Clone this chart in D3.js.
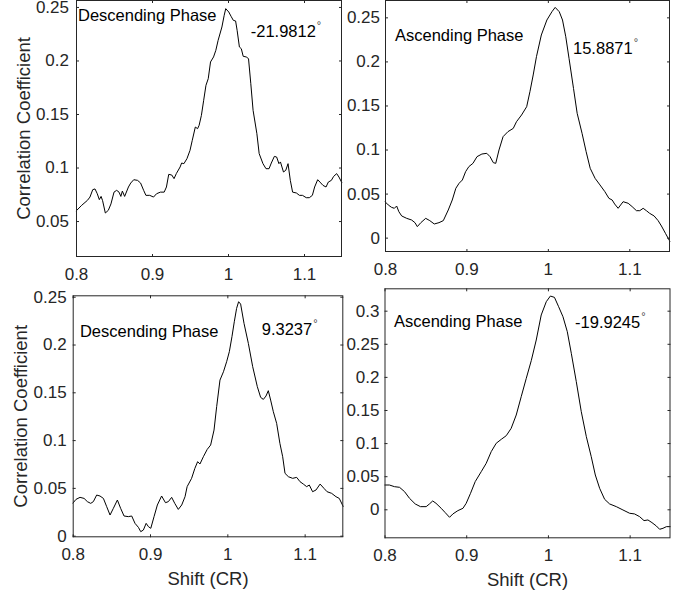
<!DOCTYPE html>
<html>
<head>
<meta charset="utf-8">
<script src="https://cdn.jsdelivr.net/npm/d3@7"></script>
<style>
  body { margin: 0; background: #fff; }
  svg { display: block; font-family: "Liberation Sans", Arial, Helvetica, sans-serif; }
</style>
</head>
<body>
<script>
let width = 690;
let height = 597;

// tick labels
const xTicks = [0.8, 0.9, 1, 1.1];
const yTicksA = [0.05, 0.1, 0.15, 0.2, 0.25];
const yTicksB = [0, 0.05, 0.1, 0.15, 0.2, 0.25];
const yTicksD = [0, 0.05, 0.1, 0.15, 0.2, 0.25, 0.3];

// panel 1: descending phase, -21.9812
const shift1 = [0.8, 0.8075, 0.815, 0.8184, 0.822, 0.825, 0.828, 0.8307, 0.833, 0.835, 0.8386, 0.8425, 0.846, 0.85, 0.8535, 0.8566, 0.859, 0.861, 0.864, 0.869, 0.872, 0.876, 0.881, 0.885, 0.889, 0.892, 0.897, 0.902, 0.906, 0.911, 0.916, 0.919, 0.922, 0.926, 0.929, 0.932, 0.937, 0.939, 0.942, 0.946, 0.95, 0.953, 0.957, 0.96, 0.962, 0.965, 0.968, 0.971, 0.974, 0.977, 0.981, 0.984, 0.987, 0.992, 0.995, 0.997, 1.001, 1.004, 1.007, 1.01, 1.012, 1.015, 1.0175, 1.02, 1.024, 1.027, 1.03, 1.033, 1.038, 1.041, 1.046, 1.05, 1.054, 1.057, 1.061, 1.064, 1.067, 1.069, 1.073, 1.076, 1.079, 1.082, 1.085, 1.09, 1.094, 1.098, 1.103, 1.107, 1.111, 1.114, 1.118, 1.121, 1.125, 1.129, 1.132, 1.136, 1.139, 1.143, 1.146, 1.15];
const corr1 = [0.0593, 0.0647, 0.0693, 0.0724, 0.0793, 0.08, 0.0755, 0.07, 0.073, 0.069, 0.0575, 0.06, 0.066, 0.077, 0.0787, 0.077, 0.073, 0.078, 0.073, 0.0818, 0.0855, 0.0886, 0.088, 0.0855, 0.0787, 0.074, 0.074, 0.0724, 0.0755, 0.077, 0.077, 0.0818, 0.0936, 0.093, 0.0896, 0.0943, 0.1005, 0.1042, 0.1036, 0.1083, 0.116, 0.1254, 0.1378, 0.1363, 0.1394, 0.1487, 0.1628, 0.1768, 0.183, 0.1986, 0.2033, 0.2095, 0.2188, 0.2313, 0.2422, 0.2484, 0.2453, 0.2413, 0.2375, 0.2369, 0.2282, 0.2126, 0.211, 0.2039, 0.2033, 0.2017, 0.1783, 0.1534, 0.1316, 0.113, 0.1036, 0.0989, 0.0989, 0.1042, 0.1104, 0.1098, 0.1036, 0.1052, 0.0958, 0.0974, 0.1036, 0.088, 0.077, 0.0762, 0.074, 0.074, 0.0718, 0.0718, 0.074, 0.0818, 0.0886, 0.0864, 0.0833, 0.0818, 0.0864, 0.088, 0.0917, 0.0943, 0.0911, 0.0855];

// panel 2: ascending phase, 15.8871
const shift2 = [0.8, 0.804, 0.808, 0.8115, 0.8143, 0.817, 0.8205, 0.8266, 0.8327, 0.8368, 0.8397, 0.844, 0.85, 0.855, 0.8605, 0.8663, 0.8716, 0.8777, 0.8826, 0.887, 0.891, 0.895, 0.899, 0.903, 0.908, 0.913, 0.919, 0.925, 0.929, 0.933, 0.936, 0.94, 0.945, 0.951, 0.9575, 0.9615, 0.9677, 0.974, 0.978, 0.982, 0.986, 0.992, 0.9988, 1.005, 1.009, 1.014, 1.018, 1.022, 1.026, 1.0315, 1.036, 1.042, 1.047, 1.052, 1.058, 1.064, 1.07, 1.075, 1.079, 1.082, 1.0863, 1.0924, 1.0986, 1.1035, 1.1088, 1.1129, 1.117, 1.121, 1.125, 1.1305, 1.1354, 1.1395, 1.1444, 1.15];
const corr2 = [0.0408, 0.0371, 0.0344, 0.0333, 0.0359, 0.0295, 0.0246, 0.0219, 0.02, 0.017, 0.0125, 0.017, 0.0219, 0.0193, 0.0155, 0.017, 0.0193, 0.0314, 0.0427, 0.056, 0.0617, 0.0654, 0.0749, 0.0806, 0.0843, 0.0919, 0.0949, 0.0957, 0.0919, 0.0851, 0.0843, 0.0995, 0.1146, 0.1203, 0.124, 0.1316, 0.1392, 0.1486, 0.1657, 0.1846, 0.2054, 0.23, 0.247, 0.2564, 0.2613, 0.2564, 0.247, 0.228, 0.2035, 0.1694, 0.1411, 0.1184, 0.0976, 0.0787, 0.0673, 0.0598, 0.0522, 0.0446, 0.0427, 0.0382, 0.0333, 0.0408, 0.039, 0.0352, 0.0306, 0.0306, 0.0333, 0.0306, 0.0276, 0.0246, 0.0193, 0.0132, 0.0049, -0.0045];

// panel 3: descending phase, 9.3237
const shift3 = [0.8, 0.8043, 0.8095, 0.8147, 0.819, 0.8233, 0.8267, 0.831, 0.8353, 0.8397, 0.844, 0.8483, 0.8526, 0.8578, 0.862, 0.8664, 0.872, 0.8763, 0.8806, 0.885, 0.888, 0.8914, 0.895, 0.898, 0.901, 0.9052, 0.9095, 0.915, 0.92, 0.9237, 0.928, 0.932, 0.9366, 0.941, 0.9453, 0.948, 0.9538, 0.958, 0.9616, 0.9646, 0.969, 0.974, 0.9784, 0.9828, 0.9862, 0.9905, 0.995, 0.9991, 1.0026, 1.006, 1.009, 1.012, 1.0146, 1.0172, 1.0216, 1.0272, 1.0328, 1.0388, 1.0431, 1.0466, 1.05, 1.053, 1.056, 1.0595, 1.0638, 1.068, 1.0716, 1.0746, 1.079, 1.0845, 1.0897, 1.094, 1.0983, 1.1026, 1.106, 1.1103, 1.1147, 1.12, 1.125, 1.129, 1.1349, 1.1405, 1.1448, 1.15];
const corr3 = [0.0338, 0.038, 0.0401, 0.039, 0.0356, 0.0338, 0.0356, 0.0425, 0.0415, 0.039, 0.0303, 0.0216, 0.0286, 0.0373, 0.0286, 0.0206, 0.0199, 0.0206, 0.0129, 0.0087, 0.0042, 0.0059, 0.0129, 0.0094, 0.0077, 0.0199, 0.0321, 0.0415, 0.0345, 0.0356, 0.0401, 0.0338, 0.0275, 0.0321, 0.0408, 0.0513, 0.06, 0.0704, 0.0774, 0.075, 0.0826, 0.0903, 0.0948, 0.1105, 0.135, 0.1628, 0.1715, 0.182, 0.1925, 0.2082, 0.2238, 0.2378, 0.2448, 0.2423, 0.2221, 0.2012, 0.1768, 0.1559, 0.1447, 0.1426, 0.1461, 0.1517, 0.1419, 0.1297, 0.1175, 0.0966, 0.0826, 0.0652, 0.0617, 0.06, 0.061, 0.0565, 0.054, 0.0513, 0.053, 0.046, 0.0478, 0.054, 0.0495, 0.046, 0.0443, 0.0408, 0.039, 0.0303];

// panel 4: ascending phase, -19.9245
const shift4 = [0.8, 0.806, 0.8122, 0.8184, 0.8245, 0.8306, 0.8376, 0.844, 0.851, 0.855, 0.859, 0.863, 0.8694, 0.8743, 0.8796, 0.8837, 0.8898, 0.896, 0.9, 0.9053, 0.911, 0.9184, 0.9245, 0.9306, 0.9367, 0.9429, 0.949, 0.955, 0.9612, 0.9673, 0.9735, 0.9796, 0.9857, 0.9918, 0.998, 1.003, 1.008, 1.0131, 1.0184, 1.0237, 1.0286, 1.0347, 1.0408, 1.047, 1.053, 1.058, 1.0633, 1.0694, 1.0755, 1.0837, 1.0918, 1.1, 1.106, 1.1122, 1.1176, 1.1224, 1.1273, 1.1327, 1.1367, 1.1408, 1.145, 1.15];
const corr4 = [0.0367, 0.0367, 0.0342, 0.0332, 0.0267, 0.0166, 0.0081, 0.004, 0.004, 0.0081, 0.0126, 0.0091, 0.0015, -0.005, -0.0121, -0.007, -0.002, 0.0015, 0.0091, 0.0242, 0.0418, 0.0569, 0.0695, 0.0871, 0.0997, 0.1057, 0.1112, 0.1223, 0.1424, 0.1701, 0.1978, 0.2245, 0.2557, 0.2935, 0.3136, 0.3221, 0.3201, 0.306, 0.2909, 0.2683, 0.2356, 0.1928, 0.1475, 0.1097, 0.0795, 0.0518, 0.0317, 0.0151, 0.0081, 0.004, -0.001, -0.006, -0.007, -0.0111, -0.0171, -0.0161, -0.0201, -0.0252, -0.0302, -0.0287, -0.0262, -0.0262];

const phases = ["Descending Phase", "Ascending Phase", "Descending Phase", "Ascending Phase"];
const angles = ["-21.9812", "15.8871", "9.3237", "-19.9245"];

// layout of the four axes (pixels) and their limits
const panels = [
    { shift: shift1, corr: corr1, yTicks: yTicksA, yDomain: [0.0164, 0.2565], box: [76, 342, 0, 257], gap: 7,
      phasePos: [0.8026, 0.2369], anglePos: [1.0299, 0.2219], yLabel: true, xLabel: false },
    { shift: shift2, corr: corr2, yTicks: yTicksB, yDomain: [-0.0163, 0.2697], box: [385, 670, 0, 252], gap: 5,
      phasePos: [0.8123, 0.2232], anglePos: [1.0309, 0.2084], yLabel: false, xLabel: false },
    { shift: shift3, corr: corr3, yTicks: yTicksB, yDomain: [-0.0017, 0.2515], box: [72.7, 343.3, 295.3, 537.3], gap: 6,
      phasePos: [0.8094, 0.2082], anglePos: [1.0445, 0.21], yLabel: true, xLabel: true },
    { shift: shift4, corr: corr4, yTicks: yTicksD, yDomain: [-0.0438, 0.3338], box: [384.5, 670.5, 288.3, 538.3], gap: 5,
      phasePos: [0.8116, 0.2749], anglePos: [1.0332, 0.2734], yLabel: false, xLabel: true }
];

const axisColor = "#262626";

const svg = d3.select("body").append("svg")
    .attr("width", width)
    .attr("height", height)
    .attr("viewBox", [0, 0, width, height]);

panels.forEach(function (p, i) {
    const [x0, x1, y0, y1] = p.box;
    const x = d3.scaleLinear([0.8, 1.15], [x0, x1]);
    const y = d3.scaleLinear(p.yDomain, [y1, y0]);

    const g = svg.append("g");

    // curve
    g.append("path")
        .datum(d3.zip(p.shift, p.corr))
        .attr("fill", "none")
        .attr("stroke", "#000")
        .attr("stroke-width", 1)
        .attr("stroke-linejoin", "round")
        .attr("d", d3.line().x(d => x(d[0])).y(d => y(d[1])));

    // bottom axis with inward ticks
    g.append("g")
        .attr("transform", `translate(0,${y1})`)
        .call(d3.axisBottom(x).tickValues(xTicks).tickFormat(d3.format("")).tickSizeInner(-3).tickSizeOuter(0).tickPadding(11))
        .call(a => a.select(".domain").remove());

    // top ticks
    g.append("g")
        .attr("transform", `translate(0,${y0})`)
        .call(d3.axisTop(x).tickValues(xTicks).tickFormat("").tickSizeInner(-3).tickSizeOuter(0))
        .call(a => a.select(".domain").remove());

    // left axis
    g.append("g")
        .attr("transform", `translate(${x0},0)`)
        .call(d3.axisLeft(y).tickValues(p.yTicks).tickFormat(d3.format("")).tickSizeInner(-3).tickSizeOuter(0).tickPadding(p.gap))
        .call(a => a.select(".domain").remove());

    // right ticks
    g.append("g")
        .attr("transform", `translate(${x1},0)`)
        .call(d3.axisRight(y).tickValues(p.yTicks).tickFormat("").tickSizeInner(-3).tickSizeOuter(0))
        .call(a => a.select(".domain").remove());

    g.selectAll(".tick line").attr("stroke", axisColor);
    g.selectAll(".tick text")
        .attr("fill", axisColor)
        .style("font-size", "17px")
        .style("font-family", "'Liberation Sans', Arial, sans-serif");

    // box
    g.append("rect")
        .attr("x", x0 + 0.5)
        .attr("y", y0 + 0.5)
        .attr("width", x1 - x0 - 1)
        .attr("height", y1 - y0 - 1)
        .attr("fill", "none")
        .attr("stroke", axisColor)
        .attr("stroke-width", 1);

    // annotations
    g.append("text")
        .attr("x", x(p.phasePos[0]))
        .attr("y", y(p.phasePos[1]))
        .attr("fill", "#000")
        .style("font-size", "16.5px")
        .text(phases[i]);

    const t = g.append("text")
        .attr("x", x(p.anglePos[0]))
        .attr("y", y(p.anglePos[1]))
        .attr("fill", "#000")
        .style("font-size", "16.5px");
    t.append("tspan").text(angles[i]);
    t.append("tspan")
        .attr("dx", 1)
        .attr("dy", -8)
        .attr("fill", "#444")
        .style("font-size", "11px")
        .text("°");

    if (p.yLabel) {
        g.append("text")
            .attr("transform", `translate(${x0 - 46},${(y0 + y1) / 2}) rotate(-90)`)
            .attr("text-anchor", "middle")
            .attr("fill", axisColor)
            .style("font-size", "18.5px")
            .text("Correlation Coefficient");
    }
    if (p.xLabel) {
        g.append("text")
            .attr("x", (x0 + x1) / 2)
            .attr("y", y1 + 48)
            .attr("text-anchor", "middle")
            .attr("fill", axisColor)
            .style("font-size", "18.5px")
            .text("Shift (CR)");
    }
});
</script>
</body>
</html>
